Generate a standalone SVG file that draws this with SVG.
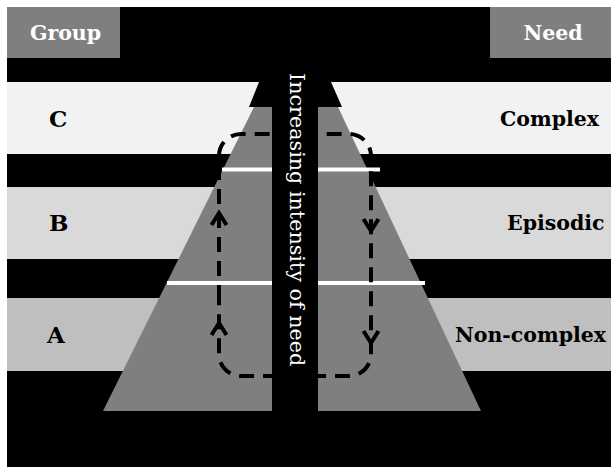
<svg xmlns="http://www.w3.org/2000/svg" xmlns:xlink="http://www.w3.org/1999/xlink" width="611" height="467" viewBox="0 0 611 467">
  <style>
    .hdr { fill: #7f7f7f; }
    .hdrtxt { font-family: "DejaVu Serif", "Liberation Serif", serif; font-weight: bold; font-size: 20.5px; fill: #ffffff; text-anchor: middle; }
    .lbl { font-family: "DejaVu Serif", "Liberation Serif", serif; font-weight: bold; font-size: 20.5px; fill: #000000; }
    .big { font-size: 23px; }
    .vert { font-family: "DejaVu Serif", "Liberation Serif", serif; font-size: 20.7px; fill: #ffffff; }
    .wline { stroke: #ffffff; stroke-width: 4; fill: none; }
    .loop { stroke: #000000; stroke-width: 4; fill: none; stroke-dasharray: 15 9; }
    .chev { stroke: #000000; stroke-width: 4; fill: none; stroke-linejoin: miter; }
  </style>
  <defs>
    <path id="chev" d="M-7.5,12 L0,0 L7.5,12"/>
  </defs>

  <rect x="0" y="0" width="611" height="467" fill="#ffffff"/>
  <rect x="7" y="7" width="604" height="460" fill="#000000"/>

  <g id="band-C"><rect x="7" y="82" width="604" height="72" fill="#f2f2f2"/></g>
  <g id="band-B"><rect x="7" y="187" width="604" height="72" fill="#d9d9d9"/></g>
  <g id="band-A"><rect x="7" y="298" width="604" height="73" fill="#bfbfbf"/></g>

  <g id="pyramid">
    <polygon points="254,107 338,107 481,411 103,411" fill="#7f7f7f"/>
    <line class="wline" x1="222" y1="169.5" x2="380" y2="169.5"/>
    <line class="wline" x1="167" y1="283" x2="425" y2="283"/>
  </g>

  <g id="connectors">
    <path class="loop" d="M219,300 V156 A22,22 0 0 1 241,134 H349 A22,22 0 0 1 371,156 V354 A22,22 0 0 1 349,376 H241 A22,22 0 0 1 219,354 Z"/>
    <use xlink:href="#chev" class="chev" transform="translate(219,213)"/>
    <use xlink:href="#chev" class="chev" transform="translate(219,323)"/>
    <use xlink:href="#chev" class="chev" transform="translate(371,231) rotate(180)"/>
    <use xlink:href="#chev" class="chev" transform="translate(371,343) rotate(180)"/>
  </g>

  <g id="intensity-arrow">
    <polygon points="259,82 331,82 342,107 318,107 318,411 272,411 272,107 249,107" fill="#000000"/>
    <text class="vert" transform="translate(290,73) rotate(90)">Increasing intensity of need</text>
  </g>

  <g id="header-group">
    <rect class="hdr" x="7" y="7" width="113" height="51"/>
    <text class="hdrtxt" x="65.5" y="40">Group</text>
  </g>
  <g id="header-need">
    <rect class="hdr" x="490" y="7" width="121" height="51"/>
    <text class="hdrtxt" x="553" y="40">Need</text>
  </g>

  <g id="group-C"><text class="lbl big" x="49" y="127">C</text></g>
  <g id="group-B"><text class="lbl big" x="49" y="231">B</text></g>
  <g id="group-A"><text class="lbl big" x="47" y="343">A</text></g>

  <g id="need-complex"><text class="lbl" x="500" y="126">Complex</text></g>
  <g id="need-episodic"><text class="lbl" x="507" y="230">Episodic</text></g>
  <g id="need-noncomplex"><text class="lbl" x="455" y="342">Non-complex</text></g>
</svg>
